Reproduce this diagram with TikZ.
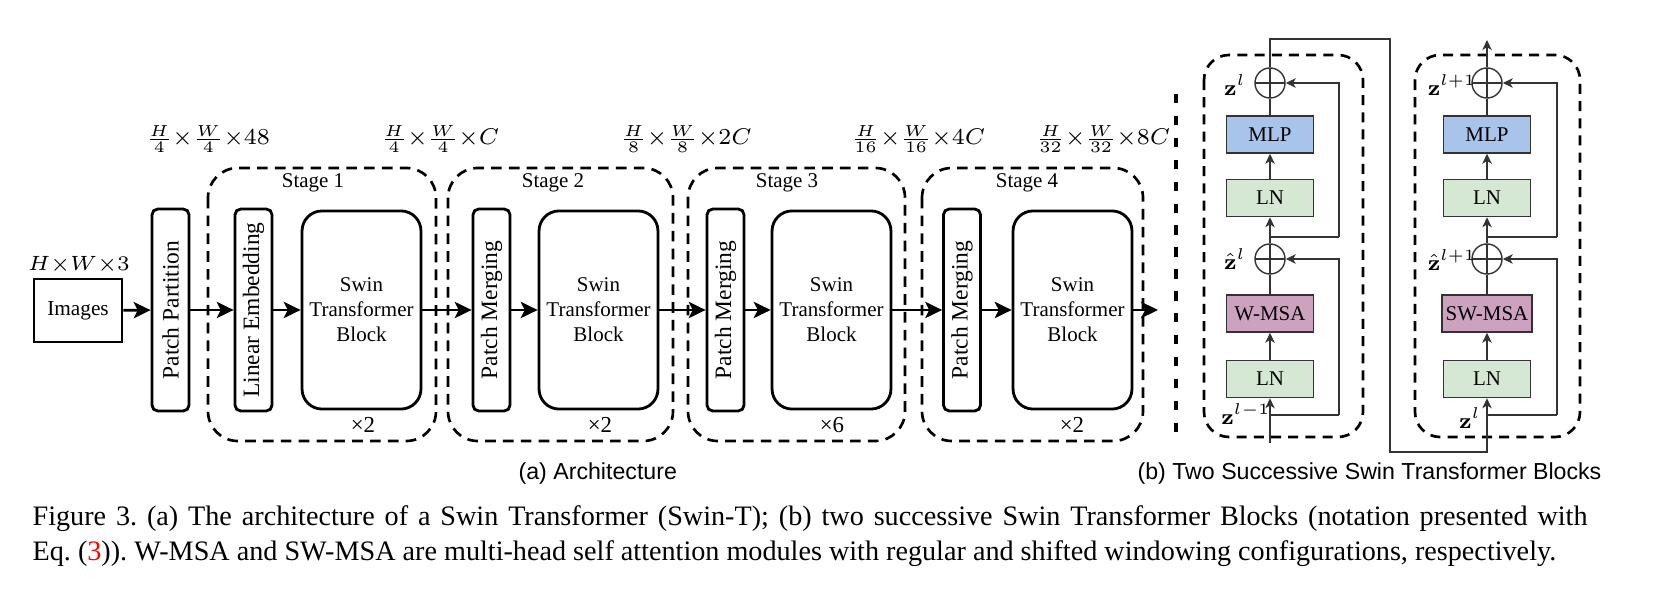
\RequirePackage{fix-cm}
\documentclass[tikz,border=0pt]{standalone}
\usepackage[no-math]{fontspec}
\setmainfont{Liberation Serif}
\setsansfont{Liberation Sans}
\usepackage{graphicx}
\usetikzlibrary{arrows.meta}
\definecolor{mlpblue}{HTML}{A9C4EB}
\definecolor{lngreen}{HTML}{D5E8D4}
\definecolor{msapink}{HTML}{CDA2BE}
\definecolor{bline}{HTML}{333333}
\frenchspacing
\begin{document}
\begin{tikzpicture}[x=0.3195pt,y=-0.3195pt,
  lab/.style={inner sep=0pt, font=\fontsize{6.7}{8}\selectfont},
  arch/.style={draw, line width=0.9pt, inner sep=0pt, align=center, font=\fontsize{6.7}{8}\selectfont},
  narrow/.style={arch, rounded corners=1.8pt, minimum width=11.82pt, minimum height=64.5pt, font=\fontsize{7.5}{9}\selectfont},
  swin/.style={arch, rounded corners=6.4pt, minimum width=38pt, minimum height=63.3pt},
  stagebox/.style={line width=0.85pt, dash pattern=on 3.4pt off 2.3pt, rounded corners=9.5pt},
  harrow/.style={line width=0.85pt, -{Stealth[length=5.4pt, width=5.2pt, inset=1.3pt]}},
  flab/.style={inner sep=0pt, font=\fontsize{7.3}{9}\selectfont},
  blk/.style={draw=bline, line width=0.5pt, minimum width=27.8pt, minimum height=11.8pt, inner sep=0pt, font=\fontsize{6.7}{8}\selectfont},
  addc/.style={circle, draw=bline, line width=0.45pt, minimum size=9.6pt, inner sep=0pt,
    path picture={\draw[line width=0.45pt, bline] (path picture bounding box.north) -- (path picture bounding box.south) (path picture bounding box.west) -- (path picture bounding box.east);}},
  conn/.style={line width=0.45pt, draw=bline},
  barrow/.style={conn, -{Stealth[length=3.2pt, width=3pt, inset=0.9pt]}},
  bdash/.style={line width=0.85pt, dash pattern=on 3.2pt off 2.3pt, rounded corners=8pt},
  zlab/.style={inner sep=0pt, font=\fontsize{7}{8}\selectfont},
  sepline/.style={line width=1.3pt, dash pattern=on 3pt off 4pt},
  caplab/.style={inner sep=0pt, font=\sffamily\fontsize{7.4}{9}\selectfont}
]
\useasboundingbox (0,0) rectangle (1657,608);

% ---------- (a) Architecture ----------
\draw[stagebox] (208,168) rectangle (436,441);
\draw[stagebox] (448,168) rectangle (673,441);
\draw[stagebox] (688,168) rectangle (905,441);
\draw[stagebox] (922,168) rectangle (1143,441);

\node[arch, minimum width=28.1pt, minimum height=20.1pt, font=\fontsize{6.8}{8}\selectfont] (img) at (78,310.5) {Images};
\node[lab, anchor=base, font=\fontsize{6.6}{8}\selectfont] (dimin) at (79,271) {$H{\times}W{\times}3$};
\node[narrow] (pp) at (170.5,310) {\rotatebox{90}{Patch Partition}};
\node[narrow] (le) at (253.5,310) {\rotatebox{90}{Linear Embedding}};
\node[swin] (sw1) at (361.5,310) {Swin\\Transformer\\Block};
\node[narrow] (pm2) at (491.5,310) {\rotatebox{90}{Patch Merging}};
\node[swin] (sw2) at (598.5,310) {Swin\\Transformer\\Block};
\node[narrow] (pm3) at (725.5,310) {\rotatebox{90}{Patch Merging}};
\node[swin] (sw3) at (831.5,310) {Swin\\Transformer\\Block};
\node[narrow] (pm4) at (962,310) {\rotatebox{90}{Patch Merging}};
\node[swin] (sw4) at (1072.5,310) {Swin\\Transformer\\Block};
\coordinate (aout) at (1158,310);

\draw[harrow] (img) -- (pp);
\draw[harrow] (pp) -- (le);
\draw[harrow] (le) -- (sw1);
\draw[harrow] (sw1) -- (pm2);
\draw[harrow] (pm2) -- (sw2);
\draw[harrow] (sw2) -- (pm3);
\draw[harrow] (pm3) -- (sw3);
\draw[harrow] (sw3) -- (pm4);
\draw[harrow] (pm4) -- (sw4);
\draw[harrow] (sw4) -- (aout);

\node[lab] (st1) at (313,183) {Stage 1};
\node[lab] (st2) at (553,183) {Stage 2};
\node[lab] (st3) at (787,183) {Stage 3};
\node[lab] (st4) at (1027,183) {Stage 4};

\node[lab, font=\fontsize{7.3}{8}\selectfont] (n1) at (363,425) {×2};
\node[lab, font=\fontsize{7.3}{8}\selectfont] (n2) at (600,425) {×2};
\node[lab, font=\fontsize{7.3}{8}\selectfont] (n3) at (832,425) {×6};
\node[lab, font=\fontsize{7.3}{8}\selectfont] (n4) at (1072,425) {×2};

\node[flab] (d0) at (208,139) {$\frac{H}{4}{\times}\frac{W}{4}{\times}48$};
\node[flab] (d1) at (440,139) {$\frac{H}{4}{\times}\frac{W}{4}{\times}C$};
\node[flab] (d2) at (686,139) {$\frac{H}{8}{\times}\frac{W}{8}{\times}2C$};
\node[flab] (d3) at (918,139) {$\frac{H}{16}{\times}\frac{W}{16}{\times}4C$};
\node[flab] (d4) at (1103,139) {$\frac{H}{32}{\times}\frac{W}{32}{\times}8C$};

% separator
\draw[sepline] (1176,94) -- (1176,440);

% ---------- (b) Two successive blocks ----------
\draw[bdash] (1204,55) rectangle (1363,437);
\draw[bdash] (1415,55) rectangle (1580,437);

% block 1
\node[blk, fill=lngreen] (lna1) at (1270,379) {LN};
\node[blk, fill=msapink] (msa1) at (1270,313.5) {W-MSA};
\node[addc] (ad1a) at (1270,259) {};
\node[blk, fill=lngreen] (lnb1) at (1270,198) {LN};
\node[blk, fill=mlpblue] (mlp1) at (1270,134.5) {MLP};
\node[addc] (ad1b) at (1270,83) {};

% block 2
\node[blk, fill=lngreen] (lna2) at (1487,379) {LN};
\node[blk, fill=msapink, minimum width=28.8pt] (msa2) at (1487,313.5) {SW-MSA};
\node[addc] (ad2a) at (1487,259) {};
\node[blk, fill=lngreen] (lnb2) at (1487,198) {LN};
\node[blk, fill=mlpblue] (mlp2) at (1487,134.5) {MLP};
\node[addc] (ad2b) at (1487,83) {};

\coordinate (in1) at (1270,443);
\coordinate (sk1a) at (1270,415);
\coordinate (sk1b) at (1270,237);
\coordinate (r1a) at (1339,415);
\coordinate (r1b) at (1339,237);
\coordinate (t1) at (1270,39);
\coordinate (t2) at (1390,39);
\coordinate (t3) at (1390,452);
\coordinate (t4) at (1487,452);
\coordinate (sk2a) at (1487,415);
\coordinate (sk2b) at (1487,237);
\coordinate (r2a) at (1557,415);
\coordinate (r2b) at (1557,237);
\coordinate (o2) at (1487,40);

\draw[barrow] (in1) -- (lna1);
\draw[barrow] (lna1) -- (msa1);
\draw[conn] (msa1) -- (ad1a);
\draw[barrow] (ad1a) -- (lnb1);
\draw[barrow] (lnb1) -- (mlp1);
\draw[conn] (mlp1) -- (ad1b);
\draw[conn] (sk1a) -- (r1a);
\draw[barrow] (r1a) |- (ad1a);
\draw[conn] (sk1b) -- (r1b);
\draw[barrow] (r1b) |- (ad1b);
\draw[barrow] (ad1b) -- (t1) -- (t2) -- (t3) -- (t4) -- (lna2);

\draw[barrow] (lna2) -- (msa2);
\draw[conn] (msa2) -- (ad2a);
\draw[barrow] (ad2a) -- (lnb2);
\draw[barrow] (lnb2) -- (mlp2);
\draw[conn] (mlp2) -- (ad2b);
\draw[conn] (sk2a) -- (r2a);
\draw[barrow] (r2a) |- (ad2a);
\draw[conn] (sk2b) -- (r2b);
\draw[barrow] (r2b) |- (ad2b);
\draw[barrow] (ad2b) -- (o2);

\node[zlab] (z1) at (1235,85) {$\mathbf{z}^{l}$};
\node[zlab] (zh1) at (1235,259) {$\hat{\mathbf{z}}^{l}$};
\node[zlab] (z0) at (1246,414) {$\mathbf{z}^{l-1}$};
\node[zlab] (z2) at (1452,85) {$\mathbf{z}^{l+1}$};
\node[zlab] (zh2) at (1452,260) {$\hat{\mathbf{z}}^{l+1}$};
\node[zlab] (z1b) at (1470,418) {$\mathbf{z}^{l}$};

% ---------- captions ----------
\node[caplab, anchor=base west] (capa) at (518,480) {(a) Architecture};
\node[caplab, anchor=base east] (capb) at (1602,480) {(b) Two Successive Swin Transformer Blocks};

\node[inner sep=0pt, anchor=base west] (cap) at (32,526) {\parbox[t]{496.8pt}{\fontsize{9}{10.9}\selectfont Figure 3. (a) The architecture of a Swin Transformer (Swin-T); (b) two successive Swin Transformer Blocks (notation presented with\linebreak Eq.~(\textcolor{red}{3})). W-MSA and SW-MSA are multi-head self attention modules with regular and shifted windowing configurations, respectively.}};
\end{tikzpicture}
\end{document}
